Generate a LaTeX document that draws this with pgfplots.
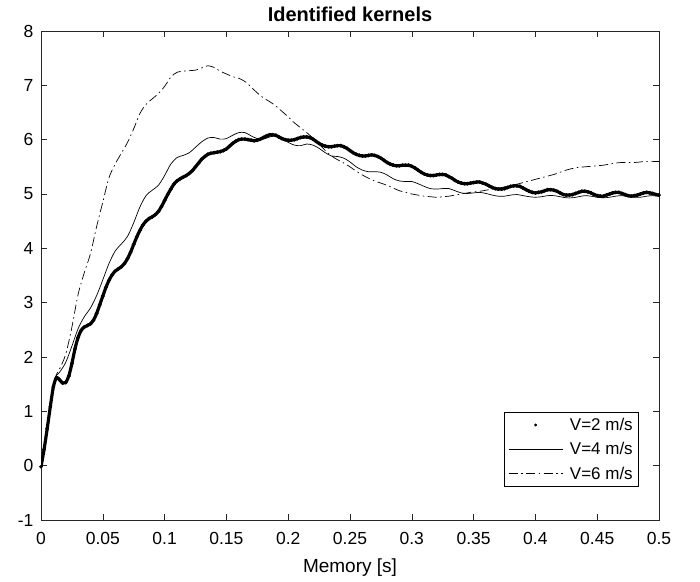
\documentclass[border=0pt]{standalone}
\usepackage{fontspec}
\setmainfont{Liberation Sans}
\usepackage{pgfplots}
\pgfplotsset{compat=1.18}
\usepackage{pgfplotstable}

\pgfplotsset{
  dotleg/.style={legend image code/.code={\draw[mark repeat=2,mark phase=2,##1,mark size=1.2bp] plot coordinates {(0bp,0bp) (27bp,0bp) (54bp,0bp)};}},
  lineleg/.style={legend image code/.code={\draw[##1] (0bp,0bp) -- (54bp,0bp);}},
}

\pgfplotstableread{
x y
0 -0.02
0.0025 0.30
0.005 0.68
0.0075 1.08
0.01 1.45
0.0125 1.62
0.015 1.58
0.0175 1.52
0.02 1.53
0.0225 1.65
0.025 1.88
0.0275 2.15
0.03 2.36
0.0325 2.49
0.035 2.55
0.0375 2.58
0.04 2.61
0.0425 2.68
0.045 2.80
0.0475 2.96
0.05 3.12
0.0525 3.28
0.055 3.41
0.0575 3.51
0.06 3.58
0.0625 3.62
0.065 3.66
0.0675 3.72
0.07 3.81
0.0725 3.93
0.075 4.07
0.0775 4.21
0.08 4.33
0.0825 4.43
0.085 4.50
0.0875 4.55
0.09 4.58
0.0925 4.62
0.095 4.68
0.0975 4.77
0.1 4.88
0.1025 4.99
0.105 5.09
0.1075 5.18
0.11 5.24
0.1125 5.28
0.115 5.31
0.1175 5.34
0.12 5.38
0.1225 5.43
0.125 5.50
0.1275 5.57
0.13 5.64
0.1325 5.69
0.135 5.73
0.1375 5.75
0.14 5.76
0.1425 5.77
0.145 5.78
0.1475 5.80
0.15 5.83
0.1525 5.88
0.155 5.93
0.1575 5.97
0.16 6.00
0.1625 6.01
0.165 6.01
0.1675 6.00
0.17 5.99
0.1725 5.98
0.175 5.99
0.1775 6.01
0.18 6.04
0.1825 6.07
0.185 6.09
0.1875 6.09
0.19 6.08
0.1925 6.05
0.195 6.02
0.1975 6.00
0.2 5.99
0.2025 5.99
0.205 6.00
0.2075 6.02
0.21 6.04
0.2125 6.05
0.215 6.05
0.2175 6.04
0.22 6.01
0.2225 5.97
0.225 5.93
0.2275 5.90
0.23 5.88
0.2325 5.87
0.235 5.87
0.2375 5.88
0.24 5.89
0.2425 5.89
0.245 5.87
0.2475 5.84
0.25 5.80
0.2525 5.76
0.255 5.73
0.2575 5.71
0.26 5.70
0.2625 5.70
0.265 5.71
0.2675 5.72
0.27 5.71
0.2725 5.69
0.275 5.66
0.2775 5.62
0.28 5.58
0.2825 5.55
0.285 5.53
0.2875 5.52
0.29 5.52
0.2925 5.53
0.295 5.53
0.2975 5.53
0.3 5.51
0.3025 5.48
0.305 5.44
0.3075 5.40
0.31 5.37
0.3125 5.35
0.315 5.34
0.3175 5.34
0.32 5.35
0.3225 5.36
0.325 5.36
0.3275 5.35
0.33 5.32
0.3325 5.29
0.335 5.25
0.3375 5.22
0.34 5.20
0.3425 5.19
0.345 5.19
0.3475 5.20
0.35 5.21
0.3525 5.22
0.355 5.22
0.3575 5.20
0.36 5.18
0.3625 5.15
0.365 5.12
0.3675 5.10
0.37 5.09
0.3725 5.09
0.375 5.10
0.3775 5.12
0.38 5.14
0.3825 5.15
0.385 5.15
0.3875 5.14
0.39 5.11
0.3925 5.08
0.395 5.05
0.3975 5.03
0.4 5.02
0.4025 5.03
0.405 5.04
0.4075 5.06
0.41 5.08
0.4125 5.08
0.415 5.07
0.4175 5.05
0.42 5.02
0.4225 4.99
0.425 4.98
0.4275 4.98
0.43 4.99
0.4325 5.01
0.435 5.03
0.4375 5.05
0.44 5.05
0.4425 5.04
0.445 5.02
0.4475 4.99
0.45 4.97
0.4525 4.96
0.455 4.96
0.4575 4.98
0.46 5.00
0.4625 5.02
0.465 5.03
0.4675 5.03
0.47 5.01
0.4725 4.99
0.475 4.97
0.4775 4.96
0.48 4.97
0.4825 4.98
0.485 5.00
0.4875 5.02
0.49 5.03
0.4925 5.02
0.495 5.01
0.4975 4.99
0.5 4.98
}\vtwo

\pgfplotstableread{
x y
0 -0.02
0.005 0.68
0.01 1.45
0.0125 1.66
0.015 1.72
0.02 1.90
0.025 2.20
0.03 2.52
0.035 2.74
0.04 2.90
0.045 3.13
0.05 3.42
0.055 3.72
0.06 3.95
0.065 4.08
0.07 4.22
0.075 4.47
0.08 4.76
0.085 4.97
0.09 5.07
0.095 5.16
0.1 5.34
0.105 5.55
0.11 5.67
0.115 5.71
0.12 5.76
0.125 5.86
0.13 5.96
0.135 6.03
0.14 6.04
0.145 6.01
0.15 6.02
0.155 6.08
0.16 6.13
0.165 6.13
0.17 6.07
0.175 6.02
0.18 6.01
0.185 6.05
0.19 6.07
0.195 6.02
0.2 5.95
0.205 5.90
0.21 5.89
0.215 5.92
0.22 5.90
0.225 5.84
0.23 5.76
0.235 5.70
0.24 5.69
0.245 5.66
0.25 5.59
0.255 5.50
0.26 5.44
0.265 5.41
0.27 5.41
0.275 5.40
0.28 5.35
0.285 5.28
0.29 5.24
0.295 5.23
0.3 5.23
0.305 5.19
0.31 5.14
0.315 5.10
0.32 5.09
0.325 5.10
0.33 5.10
0.335 5.06
0.34 5.02
0.345 5.01
0.35 5.02
0.355 5.03
0.36 5.01
0.365 4.98
0.37 4.96
0.375 4.96
0.38 4.98
0.385 4.99
0.39 4.97
0.395 4.95
0.4 4.94
0.405 4.95
0.41 4.97
0.415 4.97
0.42 4.95
0.425 4.93
0.43 4.93
0.435 4.95
0.44 4.97
0.445 4.96
0.45 4.94
0.455 4.93
0.46 4.94
0.465 4.96
0.47 4.97
0.475 4.95
0.48 4.94
0.485 4.94
0.49 4.96
0.495 4.97
0.5 4.96
}\vfour

\pgfplotstableread{
x y
0 -0.02
0.005 0.68
0.01 1.45
0.0125 1.68
0.015 1.78
0.02 2.05
0.025 2.55
0.03 3.15
0.035 3.55
0.04 3.90
0.045 4.40
0.05 4.85
0.055 5.30
0.06 5.55
0.065 5.75
0.07 5.95
0.075 6.20
0.08 6.48
0.085 6.65
0.09 6.75
0.095 6.85
0.1 6.98
0.105 7.15
0.11 7.24
0.115 7.26
0.12 7.27
0.125 7.28
0.13 7.32
0.135 7.36
0.14 7.33
0.145 7.26
0.15 7.21
0.155 7.16
0.16 7.13
0.165 7.07
0.17 6.97
0.175 6.86
0.18 6.77
0.185 6.70
0.19 6.62
0.195 6.52
0.2 6.42
0.205 6.31
0.21 6.22
0.215 6.13
0.22 6.03
0.225 5.92
0.23 5.80
0.235 5.70
0.24 5.63
0.245 5.57
0.25 5.50
0.255 5.42
0.26 5.35
0.265 5.29
0.27 5.24
0.275 5.20
0.28 5.16
0.285 5.11
0.29 5.06
0.295 5.03
0.3 5.00
0.305 4.98
0.31 4.96
0.315 4.95
0.32 4.94
0.325 4.95
0.33 4.96
0.335 4.98
0.34 5.00
0.345 5.02
0.35 5.04
0.355 5.05
0.36 5.07
0.365 5.09
0.37 5.11
0.375 5.13
0.38 5.16
0.385 5.18
0.39 5.21
0.395 5.24
0.4 5.27
0.405 5.30
0.41 5.33
0.415 5.36
0.42 5.40
0.425 5.44
0.43 5.47
0.435 5.49
0.44 5.50
0.445 5.51
0.45 5.52
0.455 5.53
0.46 5.55
0.465 5.57
0.47 5.58
0.475 5.58
0.48 5.58
0.485 5.59
0.49 5.60
0.495 5.60
0.5 5.60
}\vsix

\begin{document}
\begin{tikzpicture}
\useasboundingbox (-41bp,-62bp) rectangle (659bp,520bp);
\begin{axis}[
  at={(0,0)}, anchor=south west,
  width=618bp, height=489bp, scale only axis,
  xmin=0, xmax=0.5, ymin=-1, ymax=8,
  xtick={0,0.05,0.1,0.15,0.2,0.25,0.3,0.35,0.4,0.45,0.5},
  xticklabels={0,0.05,0.1,0.15,0.2,0.25,0.3,0.35,0.4,0.45,0.5},
  ytick={-1,0,1,2,3,4,5,6,7,8},
  yticklabels={-1,0,1,2,3,4,5,6,7,8},
  scaled x ticks=false, scaled y ticks=false,
  tick align=inside,
  major tick length=6bp,
  tick style={black!85, line width=0.5bp},
  axis line style={black!85, line width=0.6bp},
  ticklabel style={font=\fontsize{17.5bp}{20bp}\selectfont},
  xticklabel style={anchor=base, yshift=-24bp},
  yticklabel style={anchor=east, xshift=-4bp},
  xlabel={Memory [s]},
  xlabel style={font=\fontsize{19bp}{22bp}\selectfont, at={(axis description cs:0.5,0)}, anchor=base, yshift=-52bp},
  title={Identified kernels},
  title style={font=\fontsize{20bp}{23bp}\selectfont\bfseries, at={(axis description cs:0.5,1)}, anchor=base, yshift=4bp},
  legend style={at={(0.9676,0.068)}, anchor=south east, draw=black, line width=0.5bp,
    font=\fontsize{17bp}{20bp}\selectfont, row sep=6.5bp, column sep=5bp, inner sep=4bp},
  legend cell align=left,
]
\addplot[black, line width=3.2bp, smooth, forget plot]
  table[x=x,y=y] {\vtwo};
\addplot[black, only marks, mark=*, mark size=1.7bp, dotleg]
  table[x=x,y=y] {\vtwo};
\addlegendentry{V=2 m/s}
\addplot[black, line width=0.7bp, smooth, lineleg]
  table[x=x,y=y] {\vfour};
\addlegendentry{V=4 m/s}
\addplot[black, line width=0.7bp, smooth, dash pattern=on 9bp off 3.5bp on 1.5bp off 3.5bp, lineleg]
  table[x=x,y=y] {\vsix};
\addlegendentry{V=6 m/s}
\end{axis}
\end{tikzpicture}
\end{document}
